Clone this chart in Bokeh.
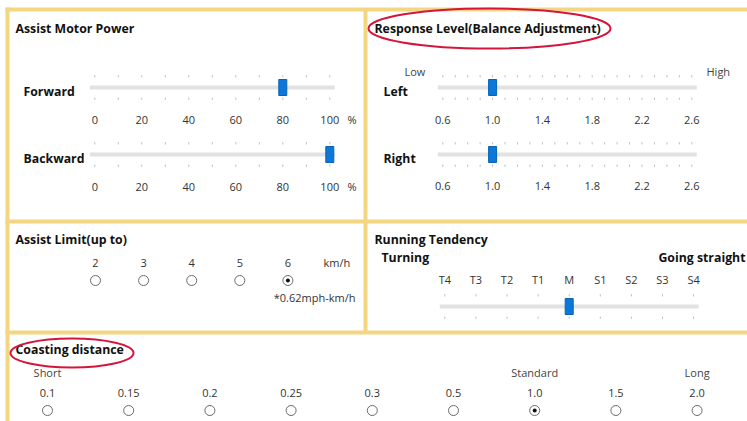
from bokeh.plotting import figure
from bokeh.models import Range1d
from bokeh.embed import file_html
from bokeh.resources import INLINE
from bokeh.core.properties import value

# ---------------- data ----------------
power_labels = [0, 20, 40, 60, 80, 100]
power_step = 10
forward_value = 80
backward_value = 100

response_labels = ["0.6", "1.0", "1.4", "1.8", "2.2", "2.6"]
response_step = 0.1
left_value = 1.0
right_value = 1.0

assist_limit_options = [2, 3, 4, 5, 6]
assist_limit_selected = 6

tendency_labels = ["T4", "T3", "T2", "T1", "M", "S1", "S2", "S3", "S4"]
tendency_selected = "M"

coasting_options = ["0.1", "0.15", "0.2", "0.25", "0.3", "0.5", "1.0", "1.5", "2.0"]
coasting_selected = "1.0"
coasting_marks = {"Short": "0.1", "Standard": "1.0", "Long": "2.0"}

# ---------------- styling ----------------
FONT = "Open Sans"
YELLOW = "#f3d582"
TRACK = "#e2e2e2"
TICK = "#c4c4c4"
BLUE = "#0b77d8"
LABEL = "#333333"
RED = "#d3163c"
BOLD_SIZE = 12.3

W, H = 747, 421
p = figure(width=W, height=H, x_range=Range1d(0, W), y_range=Range1d(H, 0),
           output_backend="svg", toolbar_location=None, min_border=0,
           x_axis_location=None, y_axis_location=None)
p.grid.visible = False
p.outline_line_color = None
p.background_fill_color = "white"
p.border_fill_color = "white"


def txt(x, y, s, size=11, bold=False, color=LABEL, align="left"):
    if bold:
        size = BOLD_SIZE
        color = "#111111"
    p.text(x=[x], y=[y], text=[s], text_font=value(FONT), text_font_size=f"{size}px",
           text_font_style="bold" if bold else "normal", text_color=color,
           text_align=align, text_baseline="middle")


def slider(x0, x1, y, tick_xs, thumb_x):
    p.quad(left=[x0 - 5], right=[x1 + 5], top=[y - 2], bottom=[y + 2],
           fill_color=TRACK, line_color=None)
    p.segment(x0=tick_xs, x1=tick_xs, y0=[y - 12.5] * len(tick_xs), y1=[y - 10] * len(tick_xs),
              line_color=TICK, line_width=1)
    p.segment(x0=tick_xs, x1=tick_xs, y0=[y + 10] * len(tick_xs), y1=[y + 12.5] * len(tick_xs),
              line_color=TICK, line_width=1)
    p.rect(x=[thumb_x], y=[y], width=8, height=16, fill_color=BLUE, line_color="#0a62b4",
           line_width=1)


def radio(xs, y, selected_idx):
    p.scatter(x=xs, y=[y] * len(xs), size=10, fill_color="white", line_color="#6a6a6a",
              line_width=1)
    p.scatter(x=[xs[selected_idx]], y=[y], size=4, fill_color="#111111", line_color=None)


# ---------------- panel borders ----------------
p.segment(x0=[5, 5, 5], x1=[747, 747, 747], y0=[9, 221, 332], y1=[9, 221, 332],
          line_color=YELLOW, line_width=4)
p.segment(x0=[7, 365], x1=[7, 365], y0=[7, 9], y1=[421, 332],
          line_color=YELLOW, line_width=4)

# ---------------- Assist Motor Power ----------------
txt(15, 28, "Assist Motor Power", bold=True)
pw0, pw1 = 94.3, 329.3
pmin, pmax = power_labels[0], power_labels[-1]
def pw_x(v):
    return pw0 + (v - pmin) / (pmax - pmin) * (pw1 - pw0)
power_ticks = [pw_x(pmin + i * power_step) for i in range(int((pmax - pmin) / power_step) + 1)]

for row_y, lab_y, name, val in [(87, 119, "Forward", forward_value),
                                 (154, 186, "Backward", backward_value)]:
    txt(23, row_y + 3.5, name, bold=True)
    slider(pw0, pw1, row_y, power_ticks, pw_x(val))
    for v in power_labels:
        txt(pw_x(v), lab_y, str(v), align="center")
    txt(347, lab_y, "%")

# ---------------- Response Level ----------------
txt(374, 28, "Response Level(Balance Adjustment)", bold=True)
p.ellipse(x=[489], y=[28], width=242, height=40, fill_color=None, line_color=RED, line_width=2)
rs0, rs1 = 442.3, 691.3
rmin, rmax = float(response_labels[0]), float(response_labels[-1])
def rs_x(v):
    return rs0 + (v - rmin) / (rmax - rmin) * (rs1 - rs0)
n_r = int(round((rmax - rmin) / response_step))
response_ticks = [rs_x(rmin + i * response_step) for i in range(n_r + 1)]
txt(404, 71, "Low", color="#444444")
txt(706, 71, "High", color="#444444")
for row_y, lab_y, name, val in [(87, 119, "Left", left_value),
                                 (154, 185, "Right", right_value)]:
    txt(383, row_y + 3.5, name, bold=True)
    slider(rs0, rs1, row_y, response_ticks, rs_x(val))
    for s in response_labels:
        txt(rs_x(float(s)), lab_y, s, align="center")

# ---------------- Assist Limit ----------------
txt(15, 239, "Assist Limit(up to)", bold=True)
al_x = [95 + i * 48.1 for i in range(len(assist_limit_options))]
for x, o in zip(al_x, assist_limit_options):
    txt(x, 262, str(o), align="center")
txt(323, 262, "km/h")
radio(al_x, 280, assist_limit_options.index(assist_limit_selected))
txt(355, 297, "*0.62mph-km/h", align="right")

# ---------------- Running Tendency ----------------
txt(374, 238.5, "Running Tendency", bold=True)
txt(381, 256.5, "Turning", bold=True)
txt(745, 256.5, "Going straight", bold=True, align="right")
rt_x = [444.3 + i * 31.1 for i in range(len(tendency_labels))]
for x, s in zip(rt_x, tendency_labels):
    txt(x, 278.5, s, align="center")
slider(rt_x[0], rt_x[-1], 306, rt_x, rt_x[tendency_labels.index(tendency_selected)])

# ---------------- Coasting distance ----------------
txt(15, 349, "Coasting distance", bold=True)
p.ellipse(x=[71.5], y=[352.5], width=123, height=29, fill_color=None, line_color=RED, line_width=2)
cd_x = [47 + i * 81.2 for i in range(len(coasting_options))]
for name, opt in coasting_marks.items():
    txt(cd_x[coasting_options.index(opt)], 372, name, align="center", color="#444444")
for x, s in zip(cd_x, coasting_options):
    txt(x, 392, s, align="center")
radio(cd_x, 410, coasting_options.index(coasting_selected))

open("out.html", "w").write(file_html(p, INLINE))
